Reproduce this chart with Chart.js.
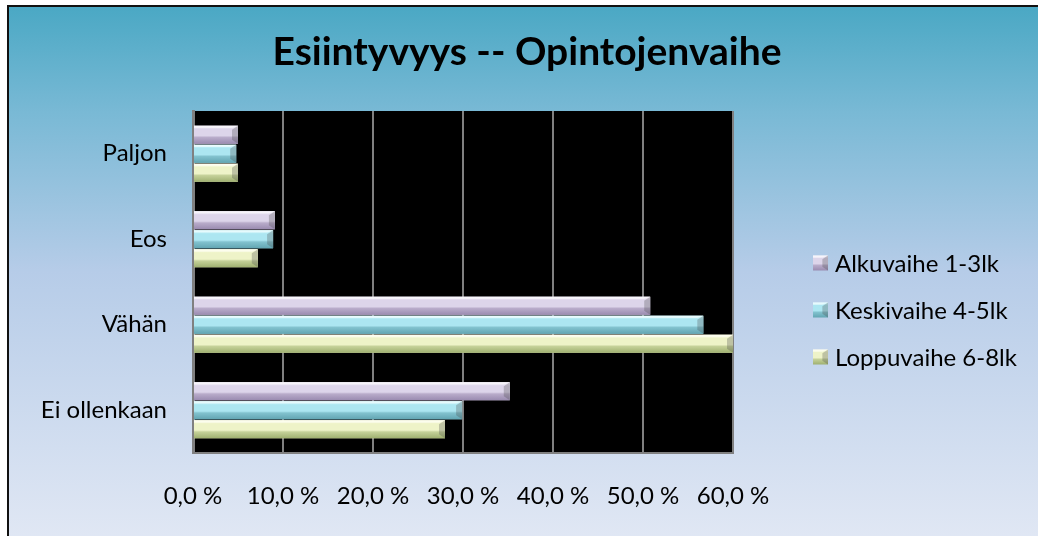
<!DOCTYPE html>
<html>
<head>
<meta charset="utf-8">
<script src="https://cdn.jsdelivr.net/npm/chart.js@4.4.1/dist/chart.umd.min.js"></script>
<style>
  html, body { margin: 0; padding: 0; background: #fff; }
  canvas { display: block; }
</style>
</head>
<body>
<canvas id="chart" width="1038" height="536"></canvas>
<script>
// data (percent)
const categories = ["Paljon", "Eos", "Vähän", "Ei ollenkaan"];
const seriesNames = ["Alkuvaihe 1-3lk", "Keskivaihe 4-5lk", "Loppuvaihe 6-8lk"];
const alkuvaihe = [5.0, 9.1, 50.8, 35.2];
const keskivaihe = [4.8, 8.9, 56.7, 29.9];
const loppuvaihe = [5.0, 7.2, 60.0, 28.0];
const tickLabels = ["0,0 %", "10,0 %", "20,0 %", "30,0 %", "40,0 %", "50,0 %", "60,0 %"];

const FONT = "Lato";

// highlight / upper face / lower face / shadow per series
const palette = [
    { light: "#f6f2fb", top: "#ddd5ea", bottom: "#b9acca", dark: "#9a8bb0" },
    { light: "#dcfdff", top: "#ace6f1", bottom: "#82c2ce", dark: "#62a5b2" },
    { light: "#fefee4", top: "#eef3c8", bottom: "#c5d199", dark: "#9fb070" }
];

const frame = {
    id: "frame",
    beforeDraw(chart) {
        const { ctx, width, height, chartArea: a } = chart;
        ctx.save();
        ctx.fillStyle = "#fff";
        ctx.fillRect(0, 0, width, height);
        const g = ctx.createLinearGradient(0, 6, 0, height);
        g.addColorStop(0, "#4aa8c4");
        g.addColorStop(0.2, "#79b9d5");
        g.addColorStop(0.5, "#b6cce8");
        g.addColorStop(1, "#e0e7f4");
        ctx.fillStyle = g;
        ctx.fillRect(8, 6, width - 8, height - 6);
        ctx.fillStyle = "#111";
        ctx.fillRect(7, 5, 2, height - 5);
        ctx.fillRect(7, 5, width - 7, 2);
        ctx.fillStyle = "#000";
        const t = Math.round(a.top);
        ctx.fillRect(Math.round(a.left), t, Math.round(a.right - a.left), Math.round(a.bottom) - t);
        ctx.restore();
    }
};

function bevel(ctx, x0, x1, yTop, yBot, c) {
    const h = yBot - yTop;
    const b = Math.min(4, h / 4);
    const g = ctx.createLinearGradient(0, yTop, 0, yBot);
    g.addColorStop(0, c.light);
    g.addColorStop(0.2, c.top);
    g.addColorStop(0.55, c.top);
    g.addColorStop(0.65, c.bottom);
    g.addColorStop(1, c.dark);
    ctx.fillStyle = g;
    ctx.fillRect(x0, yTop, x1 - x0, h);
    // right end bevel
    ctx.fillStyle = "rgba(70,70,70,0.28)";
    ctx.beginPath();
    ctx.moveTo(x1, yTop); ctx.lineTo(x1, yBot); ctx.lineTo(x1 - b * 1.5, yBot - b); ctx.lineTo(x1 - b * 1.5, yTop + b);
    ctx.fill();
    ctx.fillStyle = "rgba(255,255,255,0.5)";
    ctx.beginPath();
    ctx.moveTo(x0, yTop); ctx.lineTo(x1, yTop); ctx.lineTo(x1 - b * 1.5, yTop + b * 0.6); ctx.lineTo(x0, yTop + b * 0.6);
    ctx.fill();
}

const bevelBars = {
    id: "bevelBars",
    afterDatasetsDraw(chart) {
        const ctx = chart.ctx;
        ctx.save();
        chart.data.datasets.forEach((ds, i) => {
            chart.getDatasetMeta(i).data.forEach(el => {
                const p = el.getProps(["x", "y", "base", "height"], true);
                bevel(ctx, p.base, p.x, p.y - p.height / 2, p.y + p.height / 2, palette[i]);
            });
        });
        ctx.restore();
    }
};

const sideLegend = {
    id: "sideLegend",
    afterDraw(chart) {
        const { ctx, chartArea: a } = chart;
        ctx.save();
        ctx.font = "24px " + FONT;
        ctx.textBaseline = "middle";
        chart.data.datasets.forEach((ds, i) => {
            const y = 263 + i * 47;
            const x = a.right + 80;
            bevel(ctx, x, x + 15, y - 7.5, y + 7.5, palette[i]);
            ctx.fillStyle = "#000";
            ctx.fillText(ds.label, x + 22, y + 1);
        });
        ctx.restore();
    }
};

new Chart(document.getElementById("chart"), {
    type: "bar",
    data: {
        labels: categories,
        datasets: [
            { label: seriesNames[0], data: alkuvaihe, backgroundColor: palette[0].top },
            { label: seriesNames[1], data: keskivaihe, backgroundColor: palette[1].top },
            { label: seriesNames[2], data: loppuvaihe, backgroundColor: palette[2].top }
        ]
    },
    options: {
        indexAxis: "y",
        responsive: false,
        animation: false,
        devicePixelRatio: 1,
        categoryPercentage: 0.667,
        barPercentage: 0.95,
        layout: { padding: { left: 16, right: 0, top: 0, bottom: 0 } },
        plugins: {
            legend: { display: false },
            tooltip: { enabled: false },
            title: {
                display: true,
                text: "Esiintyvyys -- Opintojenvaihe",
                color: "#000",
                font: { family: FONT, size: 39, weight: "bold", lineHeight: "47px" },
                padding: { top: 29, bottom: 35 }
            }
        },
        scales: {
            x: {
                min: 0, max: 60,
                ticks: {
                    stepSize: 10,
                    color: "#000",
                    padding: 29,
                    font: { family: FONT, size: 24 },
                    callback: (v, i) => tickLabels[i]
                },
                grid: { color: "#808080", lineWidth: 2, drawTicks: false },
                border: { display: true, color: "#808080", width: 2 },
                afterFit: s => { s.height = 83; }
            },
            y: {
                ticks: { color: "#000", padding: 26, font: { family: FONT, size: 24 } },
                grid: { display: false, drawTicks: false },
                border: { display: true, color: "#808080", width: 3 },
                afterFit: s => { s.width = 177; }
            },
            legendSpace: {
                axis: "y",
                type: "linear",
                position: "right",
                display: true,
                ticks: { display: false },
                grid: { display: false, drawTicks: false },
                border: { display: false },
                afterFit: s => { s.width = 305; }
            }
        }
    },
    plugins: [frame, bevelBars, sideLegend]
});
</script>
</body>
</html>
